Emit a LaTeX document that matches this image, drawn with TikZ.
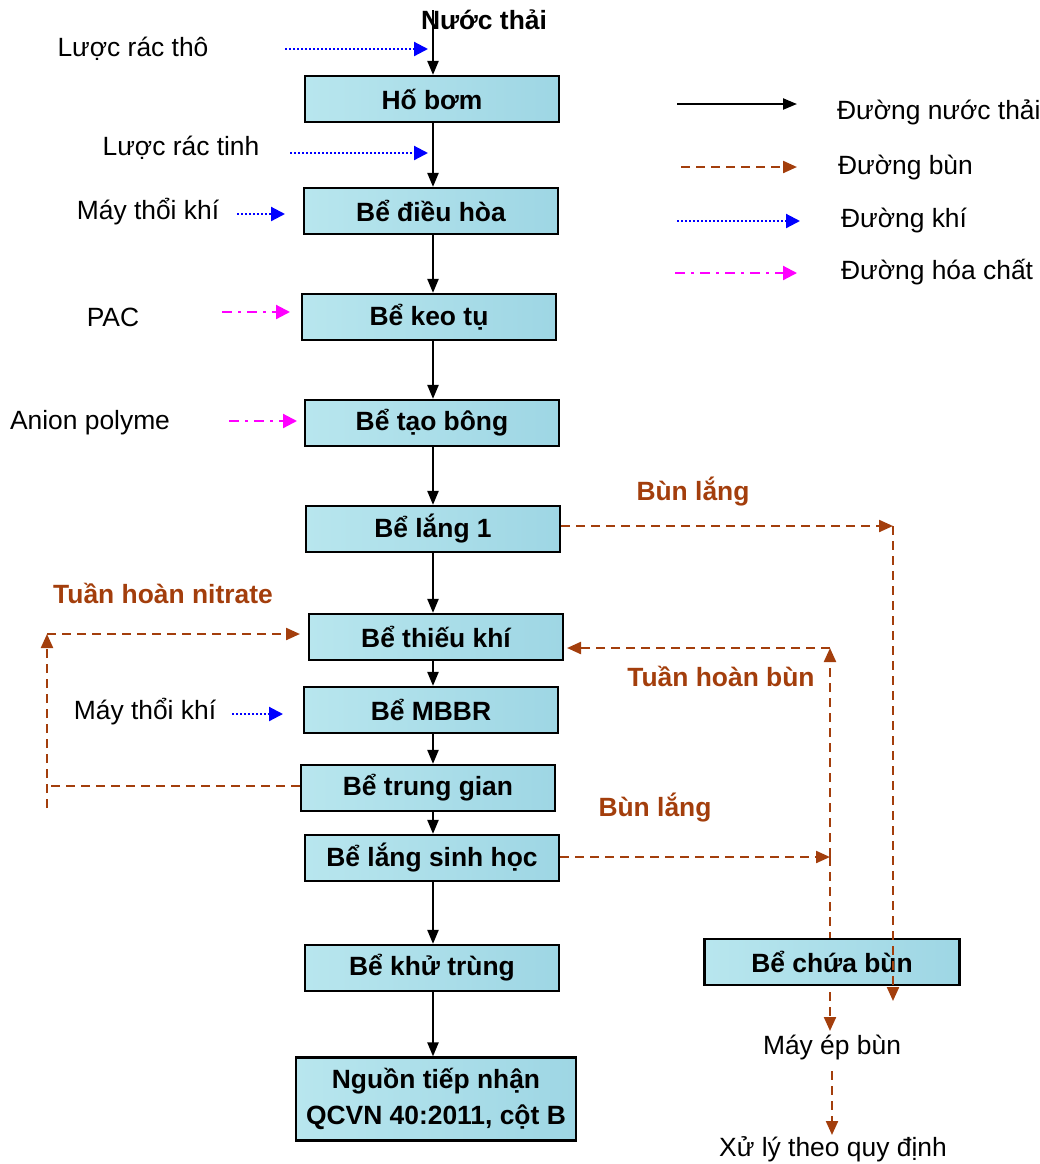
\documentclass[tikz,border=0pt]{standalone}
\usepackage{fontspec}
\setmainfont{Liberation Sans}
\usetikzlibrary{arrows.meta,positioning}
\definecolor{bunbrown}{RGB}{163,62,12}
\definecolor{tankL}{RGB}{184,230,238}
\definecolor{tankR}{RGB}{158,214,228}
\definecolor{hoachat}{RGB}{255,0,255}
\definecolor{khiblue}{RGB}{0,0,255}

\begin{document}
\begin{tikzpicture}[x=0.5pt,y=-0.5pt,
  every node/.style={font=\fontsize{13.2}{15}\selectfont},
  tank/.style={draw=black,line width=1.1pt,left color=tankL,right color=tankR,
    minimum width=127pt,minimum height=23pt,inner sep=0pt,
    font=\fontsize{13.2}{15}\selectfont\bfseries},
  bunlbl/.style={text=bunbrown,font=\fontsize{13.2}{15}\selectfont\bfseries},
  flow/.style={-{Triangle[length=7pt,width=5.5pt]},line width=1.1pt,black},
  sludge/.style={-{Triangle[length=7pt,width=6pt]},line width=1.1pt,bunbrown,dash pattern=on 4.5pt off 3pt},
  air/.style={-{Triangle[length=7pt,width=7pt]},line width=1.1pt,khiblue,dash pattern=on 1pt off 1pt},
  chem/.style={-{Triangle[length=7pt,width=7pt]},line width=1.1pt,hoachat,dash pattern=on 5pt off 3pt on 1.5pt off 3pt}]
\useasboundingbox (0,0) rectangle (1040,1164);

% main line
\node[font=\fontsize{13.2}{15}\selectfont\bfseries] (nuocthai) at (484,20) {Nước thải};
\node[tank] (hobom) at (432,99) {Hố bơm};
\node[tank] (dieuhoa) at (431,211) {Bể điều hòa};
\node[tank] (keotu) at (429,317) {Bể keo tụ};
\node[tank] (taobong) at (432,423) {Bể tạo bông};
\node[tank] (lang1) at (433,529) {Bể lắng 1};
\node[tank] (thieukhi) at (436,637) {Bể thiếu khí};
\node[tank] (mbbr) at (431,710) {Bể MBBR};
\node[tank] (trunggian) at (428,788) {Bể trung gian};
\node[tank] (langsh) at (432,858) {Bể lắng sinh học};
\node[tank] (khutrung) at (432,968) {Bể khử trùng};
\node[tank,minimum width=140pt,minimum height=41.5pt,align=center] (nguon) at (436,1099)
  {Nguồn tiếp nhận\\[3pt]QCVN 40:2011, cột B};

\coordinate (vao) at (433,10);
\draw[flow] (vao) -- (hobom.north -| vao);
\draw[flow] (hobom.south -| vao) -- (dieuhoa.north -| vao);
\draw[flow] (dieuhoa.south -| vao) -- (keotu.north -| vao);
\draw[flow] (keotu.south -| vao) -- (taobong.north -| vao);
\draw[flow] (taobong.south -| vao) -- (lang1.north -| vao);
\draw[flow] (lang1.south -| vao) -- (thieukhi.north -| vao);
\draw[flow] (thieukhi.south -| vao) -- (mbbr.north -| vao);
\draw[flow] (mbbr.south -| vao) -- (trunggian.north -| vao);
\draw[flow] (trunggian.south -| vao) -- (langsh.north -| vao);
\draw[flow] (langsh.south -| vao) -- (khutrung.north -| vao);
\draw[flow] (khutrung.south -| vao) -- (nguon.north -| vao);

% inputs on the left
\node (racthotxt) at (133,49) {Lược rác thô};
\node (ractinhtxt) at (181,148) {Lược rác tinh};
\node (thoi1txt) at (148,212) {Máy thổi khí};
\node (pactxt) at (113,317) {PAC};
\node (anionltxt) at (90,423) {Anion polyme};
\node (thoi2txt) at (145,712) {Máy thổi khí};
\coordinate (ractho) at (285,49);
\coordinate (ractinh) at (290,153);
\draw[air] (ractho) -- (428,49);
\draw[air] (ractinh) -- (428,153);
\draw[air] (237,214) -- (285,214);
\draw[chem] (222,312) -- (290,312);
\draw[chem] (229,421) -- (297,421);
\draw[air] (232,714) -- (283,714);

% nitrate recycle
\node[bunlbl] (nitratetxt) at (163,593) {Tuần hoàn nitrate};
\coordinate (nitgoc) at (47,786);
\coordinate (nitday) at (47,808);
\coordinate (nitdinh) at (47,634);
\draw[line width=1.1pt,bunbrown,dash pattern=on 4.5pt off 3pt] (trunggian.west |- nitgoc) -- (nitgoc);
\draw[sludge] (nitday) -- (nitdinh);
\draw[sludge] (nitdinh) -- (300,634);

% sludge lines
\node[bunlbl] (bun1txt) at (693,492) {Bùn lắng};
\node[bunlbl] (tuanhoantxt) at (721,676) {Tuần hoàn bùn};
\node[bunlbl] (bun2txt) at (655,808) {Bùn lắng};
\node (mayep) at (832,1048) {Máy ép bùn};
\node (xuly) at (833,1149) {Xử lý theo quy định};
\coordinate (rcgiua) at (830,857);
\coordinate (rcdinh) at (830,648);
\coordinate (bunR) at (893,526);
\draw[sludge] (langsh.east |- rcgiua) -- (rcgiua);
\draw[sludge] (rcgiua) -- (rcdinh);
\draw[sludge] (rcdinh) -- (567,648);
\draw[sludge] (rcgiua) -- (830,1031);
\draw[sludge] (832,1071) -- (832,1135);

\node[tank,minimum width=127.5pt] (chuabun) at (832,962) {Bể chứa bùn};

\draw[sludge] (lang1.east |- bunR) -- (bunR);
\draw[sludge] (bunR) -- (893,1001);

% legend
\draw[flow] (677,104) -- (797,104);
\draw[sludge] (681,167) -- (797,167);
\draw[air] (677,221) -- (800,221);
\draw[chem] (675,273) -- (797,273);
\node[anchor=west] (lg1) at (830,112) {Đường nước thải};
\node[anchor=west] (lg2) at (831,168) {Đường bùn};
\node[anchor=west] (lg3) at (834,221) {Đường khí};
\node[anchor=west] (lg4) at (834,272) {Đường hóa chất};
\end{tikzpicture}
\end{document}
